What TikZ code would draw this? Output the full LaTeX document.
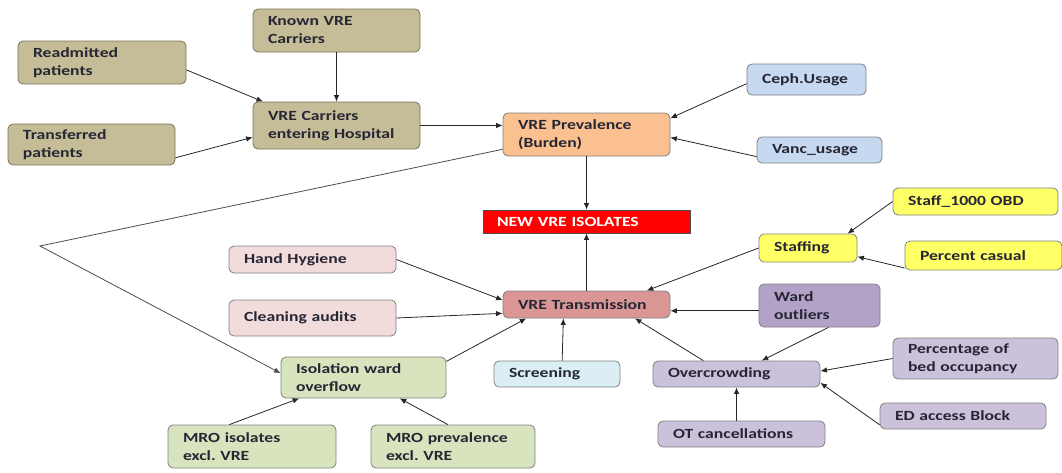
\documentclass[tikz,border=0pt]{standalone}
\usepackage{fontspec}
\setmainfont{Carlito}[FakeStretch=1.26]
\frenchspacing
\definecolor{tanbox}{RGB}{196,189,151}
\definecolor{tanedge}{RGB}{120,116,90}
\definecolor{peachbox}{RGB}{250,192,144}
\definecolor{skybox}{RGB}{198,217,241}
\definecolor{yellowbox}{RGB}{255,255,102}
\definecolor{pinkbox}{RGB}{242,220,219}
\definecolor{rosebox}{RGB}{217,150,148}
\definecolor{violetbox}{RGB}{179,162,199}
\definecolor{lilacbox}{RGB}{204,193,218}
\definecolor{greenbox}{RGB}{215,228,189}
\definecolor{icebox}{RGB}{219,238,244}
\definecolor{boxedge}{RGB}{128,128,128}
\definecolor{inktext}{RGB}{38,38,52}
\usetikzlibrary{arrows.meta}

\begin{document}
\begin{tikzpicture}[x=1pt,y=-1pt,
    box/.style 2 args={draw=boxedge,line width=0.8pt,rounded corners=5pt,
      inner xsep=15pt,inner ysep=0pt,align=left,text=inktext,
      font=\bfseries\fontsize{14}{18}\selectfont,
      text width=#1,minimum height=#2},
    arr/.style={-{Latex[length=6.5pt,width=5.5pt]},line width=0.8pt,draw=black!85}]
  \useasboundingbox (0,0) rectangle (1062,472);

  % inflow of carriers
  \node[box={137pt}{43pt},fill=tanbox,draw=tanedge] (known) at (336.5,30.5) {Known VRE\\Carriers};
  \node[box={138pt}{43pt},fill=tanbox,draw=tanedge] (readm) at (102,62.5) {Readmitted\\patients};
  \node[box={137pt}{41pt},fill=tanbox,draw=tanedge] (transf) at (91.5,144.5) {Transferred\\patients};
  \node[box={137pt}{47pt},fill=tanbox,draw=tanedge] (carr) at (336.5,125.5) {VRE Carriers\\entering Hospital};

  % prevalence and antibiotics
  \node[box={137pt}{43pt},fill=peachbox] (prev) at (586.5,134.5) {VRE Prevalence\\(Burden)};
  \node[box={89pt}{31pt},fill=skybox] (ceph) at (806.5,79.5) {Ceph.Usage};
  \node[box={95pt}{26pt},fill=skybox] (vanc) at (819.5,150) {Vanc\_usage};

  \node[box={179pt}{23pt},fill=red,draw=black!70,rounded corners=0pt,inner xsep=14pt,
        text=white,font=\bfseries\fontsize{14}{16}\selectfont] (newiso) at (586.5,221.5) {NEW VRE ISOLATES};

  % staffing
  \node[box={135pt}{27pt},fill=yellowbox] (obd) at (975.5,201.5) {Staff\_1000 OBD};
  \node[box={68pt}{28pt},fill=yellowbox] (staffing) at (808,248) {Staffing};
  \node[box={127pt}{29pt},fill=yellowbox] (casual) at (983.5,255.5) {Percent casual};

  % transmission
  \node[box={137pt}{27pt},fill=pinkbox] (hygiene) at (312.5,259.5) {Hand Hygiene};
  \node[box={137pt}{36pt},fill=pinkbox] (cleaning) at (312.5,318) {Cleaning audits};
  \node[box={137pt}{27pt},fill=rosebox] (trans) at (586.5,304.5) {VRE Transmission};
  \node[box={91pt}{43pt},fill=violetbox] (ward) at (819.5,305.5) {Ward\\outliers};
  \node[box={135pt}{41pt},fill=greenbox] (isol) at (363.5,377.5) {Isolation ward\\overflow};
  \node[box={96pt}{26pt},fill=icebox] (screen) at (557,374) {Screening};

  % overcrowding
  \node[box={137pt}{26pt},fill=lilacbox] (crowd) at (736.5,374) {Overcrowding};
  \node[box={135pt}{41pt},fill=lilacbox] (occup) at (975.5,358.5) {Percentage of\\bed occupancy};
  \node[box={136pt}{26pt},fill=lilacbox] (edblock) at (963,416) {ED access Block};
  \node[box={137pt}{26pt},fill=lilacbox] (otcanc) at (741.5,434) {OT cancellations};

  % MRO
  \node[box={138pt}{43pt},fill=greenbox] (mroiso) at (252,446.5) {MRO isolates\\excl. VRE};
  \node[box={134pt}{43pt},fill=greenbox] (mroprev) at (453,446.5) {MRO prevalence\\excl. VRE};

  \coordinate (bend) at (40,246);

  % connectors
  \draw[arr] (known.south) -- (carr.north);
  \draw[arr] (readm.-5) -- (carr.162);
  \draw[arr] (transf.-9) -- (carr.-172);
  \draw[arr] (carr.east) -- (carr.east -| prev.west);
  \draw[arr] (ceph.-176) -- (prev.11);
  \draw[arr] (vanc.186) -- (prev.-2);
  \draw[arr] (prev.south) -- (newiso.north);
  \draw[arr] (trans.north) -- (newiso.south);
  \draw[arr] (obd.west) -- (staffing.20);
  \draw[arr] (casual.-171) -- (staffing.-10);
  \draw[arr] (staffing.west) -- (trans.13);
  \draw[arr] (hygiene.east) -- (trans.177);
  \draw[arr] (cleaning.east) -- (trans.186);
  \draw[arr] (isol.11) -- (trans.193);
  \draw[arr] (screen.69) -- (trans.211);
  \draw[arr] (ward.185) -- (ward.185 -| trans.east);
  \draw[arr] (crowd.158) -- (trans.-16);
  \draw[arr] (ward.-68) -- (crowd.28);
  \draw[arr] (occup.west) -- (crowd.2);
  \draw[arr] (edblock.186) -- (crowd.-6);
  \draw[arr] (crowd.south |- otcanc.north) -- (crowd.south);
  \draw[arr] (mroiso.136) -- (isol.198);
  \draw[arr] (mroprev.103) -- (isol.-30);
  \draw[arr,draw=black!70] (prev.190) -- (bend) -- (isol.177);
\end{tikzpicture}
\end{document}
